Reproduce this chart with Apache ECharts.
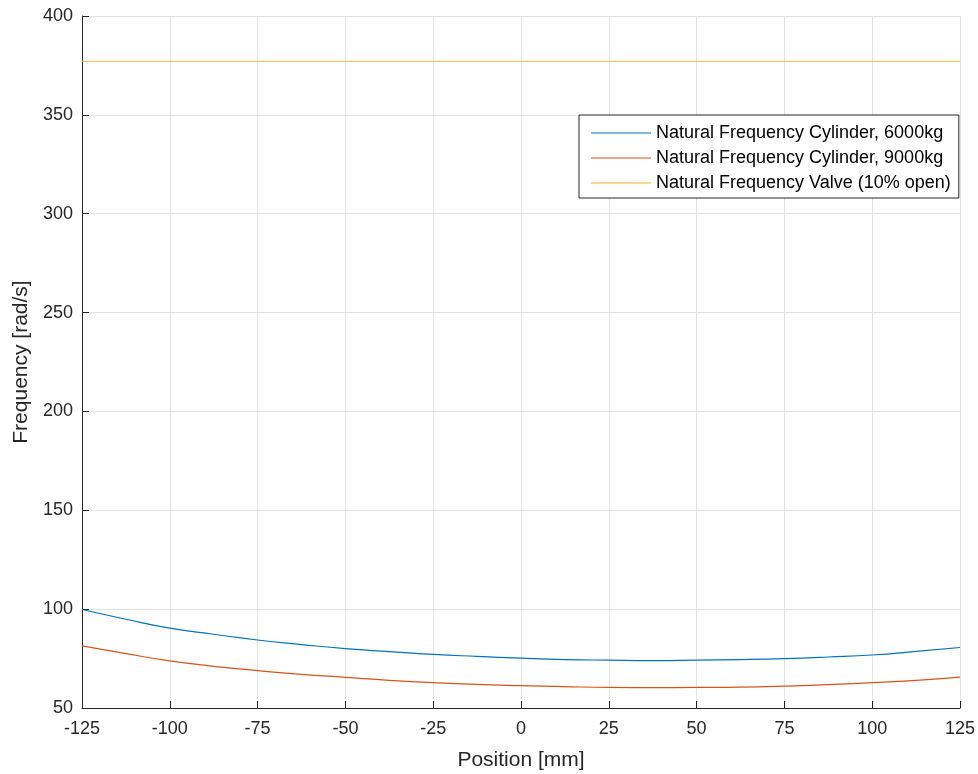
<!DOCTYPE html>
<html>
<head>
<meta charset="utf-8">
<script src="https://cdn.jsdelivr.net/npm/echarts@6/dist/echarts.min.js"></script>
<style>
  html, body { margin: 0; padding: 0; background: #ffffff; }
  #chart { width: 978px; height: 774px; }
</style>
</head>
<body>
<div id="chart"></div>
<script>
// Cylinder position along the stroke [mm]
const positions = [-125, -112.5, -100, -87.5, -75, -62.5, -50, -37.5, -25, -12.5, 0,
                   12.5, 25, 37.5, 50, 62.5, 75, 87.5, 100, 112.5, 125];

// Natural frequency of the cylinder with a 6000 kg load [rad/s]
const cyl6000 = [99.8, 94.9, 90.4, 87.3, 84.4, 82.1, 80.0, 78.5, 77.1, 76.1, 75.2,
                 74.5, 74.2, 74.0, 74.2, 74.5, 75.0, 75.8, 76.8, 78.6, 80.6];

// Natural frequency of the cylinder with a 9000 kg load [rad/s]
const cyl9000 = [81.4, 77.5, 73.8, 71.1, 68.9, 67.0, 65.5, 64.0, 62.8, 61.9, 61.3,
                 60.8, 60.4, 60.3, 60.4, 60.6, 61.1, 61.8, 62.8, 64.0, 65.6];

// Natural frequency of the valve at 10% opening [rad/s]
const valveFreq = 377;

const seriesNames = [
  'Natural Frequency Cylinder, 6000kg',
  'Natural Frequency Cylinder, 9000kg',
  'Natural Frequency Valve (10% open)'
];

const xTicks = { min: -125, max: 125, step: 25 };
const yTicks = { min: 50, max: 400, step: 50 };

const pairs = (ys) => positions.map((x, i) => [x, ys[i]]);
const valveLine = positions.map((x) => [x, valveFreq]);

const FONT = "'Liberation Sans', Arial, sans-serif";
const INK = '#262626';

const chart = echarts.init(document.getElementById('chart'), null, { renderer: 'canvas' });

const axisCommon = {
  type: 'value',
  axisLine: { show: true, onZero: false, lineStyle: { color: INK, width: 1 } },
  axisTick: { show: true, inside: true, length: 7, lineStyle: { color: INK } },
  axisLabel: { color: INK, fontSize: 18, fontFamily: FONT },
  splitLine: { show: true, lineStyle: { color: '#e2e2e2', width: 1 } },
  nameTextStyle: { color: INK, fontSize: 21, fontFamily: FONT }
};

chart.setOption({
  animation: false,
  backgroundColor: '#ffffff',
  grid: {
    left: 82, right: 18, top: 16, bottom: 66,
    containLabel: false, outerBoundsMode: 'none'
  },
  xAxis: Object.assign({}, axisCommon, {
    min: xTicks.min, max: xTicks.max, interval: xTicks.step,
    name: 'Position [mm]', nameLocation: 'middle', nameGap: 42,
    axisLabel: Object.assign({}, axisCommon.axisLabel, { margin: 12 })
  }),
  yAxis: Object.assign({}, axisCommon, {
    min: yTicks.min, max: yTicks.max, interval: yTicks.step,
    name: 'Frequency [rad/s]', nameLocation: 'middle', nameGap: 48,
    axisLabel: Object.assign({}, axisCommon.axisLabel, { margin: 9 })
  }),
  legend: {
    orient: 'vertical',
    left: 579, top: 115,
    padding: [8, 8, 5, 12],
    itemWidth: 60, itemHeight: 10, itemGap: 5,
    backgroundColor: '#ffffff',
    borderColor: INK, borderWidth: 1, borderRadius: 0,
    textStyle: { color: '#000000', fontSize: 18, fontFamily: FONT, lineHeight: 20 },
    data: seriesNames.map((n) => ({ name: n, icon: 'path://M0,5 L60,5 L60,6 L0,6 Z' }))
  },
  series: [
    {
      name: seriesNames[0], type: 'line', data: pairs(cyl6000),
      smooth: 0.5, showSymbol: false, symbol: 'none',
      color: '#0072BD', lineStyle: { color: '#0072BD', width: 1.2 }
    },
    {
      name: seriesNames[1], type: 'line', data: pairs(cyl9000),
      smooth: 0.5, showSymbol: false, symbol: 'none',
      color: '#D95319', lineStyle: { color: '#D95319', width: 1.2 }
    },
    {
      name: seriesNames[2], type: 'line', data: valveLine,
      showSymbol: false, symbol: 'none',
      color: '#EDB120', lineStyle: { color: '#EDB120', width: 1.2, opacity: 0.7 }
    }
  ]
});
</script>
</body>
</html>
